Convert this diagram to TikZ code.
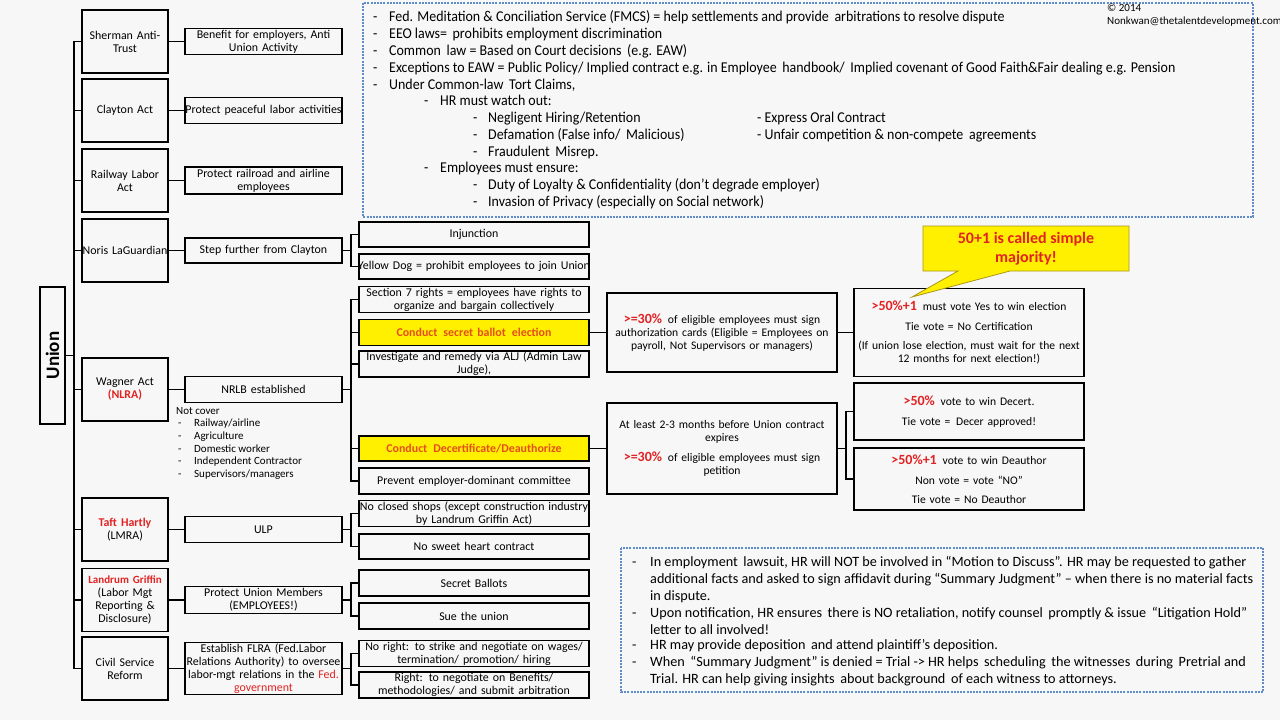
\documentclass[tikz,border=0pt]{standalone}
\usepackage{fontspec}
\setmainfont{Carlito}
\newfontfamily\narrowf[FakeStretch=0.93]{Carlito}
\usetikzlibrary{calc}
\definecolor{bg}{RGB}{247,247,247}
\definecolor{tred}{RGB}{226,34,34}
\definecolor{torange}{RGB}{228,78,28}
\definecolor{hy}{RGB}{255,240,0}
\definecolor{dblue}{RGB}{95,140,200}
\definecolor{callb}{RGB}{170,150,20}
\newcommand\rb[1]{{\bfseries\color{tred}#1}}
\newcommand\rbl[1]{{\fontsize{14}{13}\selectfont\bfseries\color{tred}#1}}
\begin{document}
\begin{tikzpicture}[x=1pt,y=-1pt,
  every node/.style={inner sep=1pt},
  base/.style={draw, line width=1.1pt, align=center, inner xsep=-15pt, inner ysep=1pt, font=\fontsize{11.9}{13}\selectfont},
  lawbox/.style={base, minimum width=86, minimum height=63, text width=116},
  sbox/.style={base, minimum width=157, text width=187},
  tbox/.style={base, minimum width=230, text width=260},
  hbox/.style={tbox, fill=hy, font=\fontsize{11.9}{13}\selectfont\bfseries\color{torange}},
  fbox/.style={base, minimum width=230, text width=260, font=\fontsize{11.6}{13}\selectfont},
  conn/.style={line width=1.1pt},
  note/.style={draw=dblue, line width=2pt, dash pattern=on 2pt off 1.2pt},
  tl/.style={anchor=base west, inner sep=0pt, font=\narrowf\fontsize{15}{17}\selectfont},
  bl/.style={anchor=base west, inner sep=0pt, font=\fontsize{14.2}{17}\selectfont}]
\fill[bg] (0,0) rectangle (1280,720);
\useasboundingbox (0,0) rectangle (1280,720);

% Union
\node[draw, line width=1.1pt, minimum width=25, minimum height=137, inner sep=0pt] (union) at (52.5,355.5) {};
\node[rotate=90, font=\fontsize{19}{19}\selectfont\bfseries] (uniont) at (union.center) {Union};
\coordinate (tx) at (74,0);

% Laws
\node[lawbox] (sher) at (125,41.5) {Sherman Anti-\\Trust};
\node[lawbox] (clay) at (125,110.5) {Clayton Act};
\node[lawbox] (rail) at (125,180.5) {Railway Labor\\Act};
\node[lawbox] (noris) at (125,250.5) {Noris LaGuardian};
\node[lawbox] (wag) at (125,389.5) {Wagner Act\\\rb{(NLRA)}};
\node[lawbox] (taft) at (125,529.5) {\rb{Taft Hartly}\\(LMRA)};
\node[lawbox] (land) at (125,600) {{\fontsize{11}{13}\selectfont\rb{Landrum Griffin}}\\(Labor Mgt\\Reporting \&\\Disclosure)};
\node[lawbox] (civil) at (125,668.5) {Civil Service\\Reform};

% Second level
\node[sbox, minimum height=26] (ben) at (263.5,41.5) {Benefit for employers, Anti\\Union Activity};
\node[sbox, minimum height=26] (peace) at (263.5,110.5) {Protect peaceful labor activities};
\node[sbox, minimum height=27] (railp) at (263.5,180.5) {Protect railroad and airline\\employees};
\node[sbox, minimum height=25] (step) at (263.5,250.5) {Step further from Clayton};
\node[sbox, minimum height=26] (nrlb) at (263.5,389.5) {NRLB established};
\node[sbox, minimum height=26] (ulp) at (263.5,529.5) {ULP};
\node[sbox, minimum height=27] (pum) at (263.5,600) {Protect Union Members\\(EMPLOYEES!)};
\node[sbox, minimum height=52] (flra) at (263.5,668.5) {Establish FLRA (Fed.Labor\\Relations Authority) to oversee\\labor-mgt relations in the {\color{tred}Fed.}\\{\color{tred}government}};

\node[anchor=north west, align=left, inner sep=0pt, font=\fontsize{11}{12.6}\selectfont] (notcov) at (176,407)
 {Not cover\\
  \makebox[18pt][l]{\hspace{2pt}-}Railway/airline\\
  \makebox[18pt][l]{\hspace{2pt}-}Agriculture\\
  \makebox[18pt][l]{\hspace{2pt}-}Domestic worker\\
  \makebox[18pt][l]{\hspace{2pt}-}Independent Contractor\\
  \makebox[18pt][l]{\hspace{2pt}-}Supervisors/managers};

% Third level
\coordinate (bx) at (351,0);
\node[tbox, minimum height=25] (inj) at (474,234.5) {Injunction};
\node[tbox, minimum height=25] (yd) at (474,266.5) {Yellow Dog = prohibit employees to join Union};
\node[tbox, minimum height=25] (s7) at (474,299.5) {Section 7 rights = employees have rights to\\organize and bargain collectively};
\node[hbox, minimum height=26] (csb) at (474,332.5) {Conduct\, secret ballot\, election};
\node[tbox, minimum height=26] (inv) at (474,364) {Investigate and remedy via ALJ (Admin Law\\Judge),};
\node[hbox, minimum height=25] (cdd) at (474,448.5) {Conduct\, Decertificate/Deauthorize};
\node[tbox, minimum height=26] (prev) at (474,481) {Prevent employer-dominant committee};
\node[tbox, minimum height=25] (ncs) at (474,513.5) {No closed shops (except construction industry\\by Landrum Griffin Act)};
\node[tbox, minimum height=25] (nsh) at (474,546.5) {No sweet heart contract};
\node[tbox, minimum height=26] (sb) at (474,583) {Secret Ballots};
\node[tbox, minimum height=26] (sue) at (474,616) {Sue the union};
\node[tbox, minimum height=25] (nor) at (474,653.5) {No right: to strike and negotiate on wages/\\termination/ promotion/ hiring};
\node[tbox, minimum height=26] (rig) at (474,685) {Right: to negotiate on Benefits/\\methodologies/ and submit arbitration};

% Fourth level
\node[fbox, minimum height=79] (elec) at (722,332.5) {\rbl{>=30\%}\, of eligible employees must sign\\authorization cards (Eligible = Employees on\\payroll, Not Supervisors or managers)};
\node[fbox, minimum height=91] (dec) at (722,448.5) {At least 2-3 months before Union contract\\expires\\[7pt]\rbl{>=30\%}\, of eligible employees must sign\\petition};

% Fifth level
\coordinate (bx2) at (846,0);
\node[fbox, minimum height=88] (vote) at (969,332.5) {\rbl{>50\%+1}\, must vote Yes to win election\\[7pt]Tie vote = No Certification\\[6pt](If union lose election, must wait for the next\\12 months for next election!)};
\node[fbox, minimum height=57] (dwin) at (969,411.5) {\rbl{>50\%}\, vote to win Decert.\\[7pt]Tie vote =\, Decer approved!};
\node[fbox, minimum height=62] (dauth) at (969,479) {\rbl{>50\%+1}\, vote to win Deauthor\\[7pt]Non vote = vote “NO”\\[6pt]Tie vote = No Deauthor};

% Callout
\filldraw[fill=hy, draw=callb, line width=0.8pt] (923,226) -- (1129,226) -- (1129,271) -- (1010,271) -- (912,297) -- (958,271) -- (923,271) -- cycle;
\node[align=center, font=\fontsize{16}{19}\selectfont\bfseries\color{tred}] (callout) at (1026,249) {50+1 is called simple\\majority!};

% Connectors: trunk
\draw[conn] (sher.west) -- (sher.west -| tx) |- (civil.west);
\foreach \n in {clay,rail,noris,wag,taft,land} \draw[conn] (\n.west) -- (\n.west -| tx);
\draw[conn] (union.east) -- (union.east -| tx);
% law -> second
\foreach \a/\b in {sher/ben,clay/peace,rail/railp,noris/step,wag/nrlb,taft/ulp,land/pum,civil/flra} \draw[conn] (\a) -- (\b);
% brackets
\draw[conn] (step.east) -- (step.east -| bx);
\draw[conn] (inj.west) -- (inj.west -| bx) |- (yd.west);
\draw[conn] (nrlb.east) -- (nrlb.east -| bx);
\draw[conn] (s7.west) -- (s7.west -| bx) |- (prev.west);
\foreach \n in {csb,inv,cdd} \draw[conn] (\n.west) -- (\n.west -| bx);
\draw[conn] (ulp.east) -- (ulp.east -| bx);
\draw[conn] (ncs.west) -- (ncs.west -| bx) |- (nsh.west);
\draw[conn] (pum.east) -- (pum.east -| bx);
\draw[conn] (sb.west) -- (sb.west -| bx) |- (sue.west);
\draw[conn] (flra.east) -- (flra.east -| bx);
\draw[conn] (nor.west) -- (nor.west -| bx) |- (rig.west);
\draw[conn] (csb.east) -- (elec.west);
\draw[conn] (cdd.east) -- (dec.west);
\draw[conn] (elec.east) -- (vote.west);
\draw[conn] (dec.east) -- (dec.east -| bx2);
\draw[conn] (dwin.west) -- (dwin.west -| bx2) |- (dauth.west);

% Top note
\draw[note] (363,3) rectangle (1253,217);
\node[anchor=base west, inner sep=0pt, font=\fontsize{11}{11}\selectfont] (copy) at (1107,11) {© 2014};
\node[anchor=base west, inner sep=0pt, font=\fontsize{11}{11}\selectfont] (mail) at (1107,24) {Nonkwan@thetalentdevelopment.com};
\foreach \y in {21,38,55,72,89} \node[tl] at (373,\y) {-};
\node[tl] (t1) at (389,21) {Fed. Meditation \& Conciliation Service (FMCS) = help settlements and provide\, arbitrations to resolve dispute};
\node[tl] (t2) at (389,38) {EEO laws=\, prohibits employment discrimination};
\node[tl] (t3) at (389,55) {Common\, law = Based on Court decisions\, (e.g. EAW)};
\node[tl] (t4) at (389,72) {Exceptions to EAW = Public Policy/ Implied contract e.g. in Employee\, handbook/\, Implied covenant of Good Faith\&Fair dealing e.g. Pension};
\node[tl] (t5) at (389,89) {Under Common-law\, Tort Claims,};
\node[tl] at (424,105) {-}; \node[tl] (t6) at (440,105) {HR must watch out:};
\node[tl] at (473,122) {-}; \node[tl] (t7) at (488,122) {Negligent Hiring/Retention};
\node[tl] (t7b) at (757,122) {- Express Oral Contract};
\node[tl] at (473,139) {-}; \node[tl] (t8) at (488,139) {Defamation (False info/\, Malicious)};
\node[tl] (t8b) at (757,139) {- Unfair competition \& non-compete\, agreements};
\node[tl] at (473,156) {-}; \node[tl] (t9) at (488,156) {Fraudulent\, Misrep.};
\node[tl] at (424,172) {-}; \node[tl] (t10) at (440,172) {Employees must ensure:};
\node[tl] at (473,189) {-}; \node[tl] (t11) at (488,189) {Duty of Loyalty \& Confidentiality (don’t degrade employer)};
\node[tl] at (473,206) {-}; \node[tl] (t12) at (488,206) {Invasion of Privacy (especially on Social network)};

% Bottom note
\draw[note] (621,548) rectangle (1263,692);
\foreach \y in {566,617,649,666} \node[bl] at (632,\y) {-};
\node[bl] (b1) at (650,566) {In employment\, lawsuit, HR will NOT be involved in “Motion to Discuss”. HR may be requested to gather};
\node[bl] (b2) at (650,583) {additional facts and asked to sign affidavit during “Summary Judgment” – when there is no material facts};
\node[bl] (b3) at (650,600) {in dispute.};
\node[bl] (b4) at (650,617) {Upon notification, HR ensures\, there is NO retaliation, notify counsel\, promptly \& issue\, “Litigation Hold”};
\node[bl] (b5) at (650,634) {letter to all involved!};
\node[bl] (b6) at (650,649) {HR may provide deposition\, and attend plaintiff’s deposition.};
\node[bl] (b7) at (650,666) {When\, “Summary Judgment” is denied = Trial -> HR helps\, scheduling\, the witnesses\, during\, Pretrial and};
\node[bl] (b8) at (650,683) {Trial. HR can help giving insights\, about background\, of each witness to attorneys.};
\end{tikzpicture}
\end{document}
